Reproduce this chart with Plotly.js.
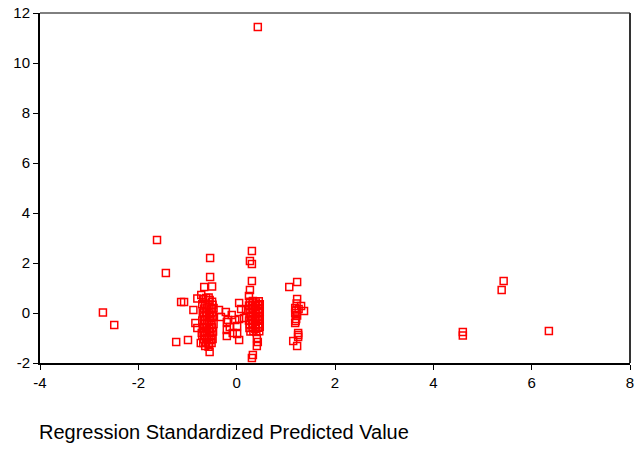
<!DOCTYPE html>
<html>
<head>
<meta charset="utf-8">
<script src="https://cdn.plot.ly/plotly-3.0.1.min.js"></script>
<style>html,body{margin:0;padding:0;background:#fff;}#chart{width:637px;height:450px;}</style>
</head>
<body>
<div id="chart"></div>
<script>
// Outliers far from the main clusters
const outlierX = [-2.72, -2.49, -1.62, -1.44, -1.23, -1.13, -1.07, -0.99, 0.43, 4.60, 4.60, 5.39, 5.43, 6.35];
const outlierY = [0.02, -0.48, 2.92, 1.60, -1.16, 0.44, 0.44, -1.08, 11.44, -0.76, -0.90, 0.92, 1.28, -0.72];

// Cluster around x = -0.6
const clusterAX = [-0.68, -0.62, -0.55, -0.50, -0.70, -0.64, -0.57, -0.49, -0.66, -0.60, -0.53, -0.47,
  -0.69, -0.63, -0.56, -0.50, -0.67, -0.61, -0.54, -0.48, -0.70, -0.64, -0.57, -0.51,
  -0.66, -0.60, -0.53, -0.47, -0.69, -0.63, -0.56, -0.50, -0.67, -0.61, -0.54, -0.48,
  -0.70, -0.64, -0.57, -0.51, -0.66, -0.60, -0.53, -0.49, -0.68, -0.62, -0.56, -0.51,
  -0.64, -0.57, -0.55, -0.72, -0.80, -0.88, -0.84, -0.80, -0.71, -0.73, -0.66, -0.50, -0.54, -0.54, -0.57];
const clusterAY = [0.55, 0.60, 0.52, 0.45, 0.35, 0.38, 0.30, 0.33, 0.18, 0.22, 0.15, 0.20,
  0.02, 0.05, -0.02, 0.04, -0.14, -0.10, -0.17, -0.12, -0.30, -0.27, -0.33, -0.28,
  -0.45, -0.42, -0.48, -0.44, -0.60, -0.57, -0.63, -0.58, -0.75, -0.72, -0.78, -0.74,
  -0.90, -0.88, -0.93, -0.89, -1.05, -1.02, -1.08, -1.04, -1.20, -1.18, -1.24, -1.20,
  -1.32, -1.35, -1.56, 0.72, 0.58, 0.12, -0.40, -0.60, -0.80, -1.20, 1.04, 1.06, 1.44, 2.20, 0.62];

// Scattered points between the two main clusters
const middleX = [-0.36, -0.22, -0.32, -0.20, -0.10, 0.05, 0.09, 0.05, 0.01, -0.14, -0.20, -0.08, -0.20, 0.01, 0.05, -0.03, -0.18, 0.15, 0.19];
const middleY = [0.12, 0.04, -0.16, -0.36, -0.08, 0.40, 0.16, -0.24, -0.52, -0.56, -0.68, -0.80, -0.92, -0.84, -1.08, -0.28, -0.28, -0.20, 0.12];

// Cluster around x = 0.4
const clusterBX = [0.27, 0.33, 0.39, 0.45, 0.25, 0.31, 0.37, 0.43, 0.47, 0.28, 0.34, 0.40, 0.46,
  0.26, 0.32, 0.38, 0.44, 0.47, 0.28, 0.34, 0.40, 0.46, 0.25, 0.31, 0.37, 0.43, 0.47,
  0.27, 0.33, 0.39, 0.45, 0.26, 0.32, 0.38, 0.44, 0.47, 0.28, 0.34, 0.40, 0.46,
  0.41, 0.43, 0.41, 0.33, 0.31, 0.31, 0.27, 0.31, 0.31, 0.27, 0.25];
const clusterBY = [0.45, 0.48, 0.42, 0.47, 0.30, 0.33, 0.27, 0.31, 0.35, 0.15, 0.18, 0.12, 0.16,
  0.00, 0.03, -0.03, 0.01, 0.05, -0.15, -0.12, -0.18, -0.14, -0.30, -0.27, -0.33, -0.29, -0.25,
  -0.45, -0.42, -0.48, -0.44, -0.60, -0.57, -0.63, -0.59, -0.55, -0.74, -0.72, -0.76, -0.73,
  -1.00, -1.16, -1.32, -1.68, -1.80, 2.48, 2.08, 1.96, 1.28, 0.92, 0.68];

// Cluster around x = 1.2
const clusterCX = [1.23, 1.19, 1.31, 1.37, 1.19, 1.21, 1.19, 1.25, 1.25, 1.15, 1.23, 1.07, 1.23, 1.21, 1.23, 1.20, 1.25, 1.22, 1.26];
const clusterCY = [0.56, 0.20, 0.28, 0.08, 0.00, -0.24, -0.40, -0.80, -0.96, -1.12, -1.32, 1.04, 1.24, 0.10, -0.10, -0.32, -0.88, 0.38, 0.16];

const xTicks = [-4, -2, 0, 2, 4, 6, 8];
const yTicks = [-2, 0, 2, 4, 6, 8, 10, 12];

const xs = [].concat(outlierX, clusterAX, middleX, clusterBX, clusterCX);
const ys = [].concat(outlierY, clusterAY, middleY, clusterBY, clusterCY);

const trace = {
  x: xs, y: ys, type: 'scatter', mode: 'markers',
  marker: {symbol: 'square-open', size: 7, color: '#ff0000', line: {width: 1.5, color: '#ff0000'}},
  hoverinfo: 'x+y'
};

const font = {family: 'Liberation Sans, Arial, sans-serif', size: 15, color: '#000'};
const layout = {
  width: 637, height: 450,
  margin: {l: 40, r: 7, t: 13, b: 87},
  paper_bgcolor: '#fff', plot_bgcolor: '#fff',
  showlegend: false,
  font: font,
  xaxis: {range: [-4, 8], tickvals: xTicks, ticktext: xTicks.map(String), showgrid: false, zeroline: false,
    showline: true, linecolor: '#000', linewidth: 2, ticks: 'outside', ticklen: 5, tickwidth: 1, tickcolor: '#000',
    tickfont: font},
  yaxis: {range: [-2, 12], tickvals: yTicks, ticktext: yTicks.map(String), showgrid: false, zeroline: false,
    showline: true, linecolor: '#000', linewidth: 2, ticks: 'outside', ticklen: 5, tickwidth: 1, tickcolor: '#000',
    tickfont: font},
  shapes: [
    {type: 'line', xref: 'paper', yref: 'paper', x0: 0, x1: 1, y0: 1, y1: 1, line: {color: '#000', width: 1}},
    {type: 'line', xref: 'paper', yref: 'paper', x0: 1, x1: 1, y0: 0, y1: 1, line: {color: '#333', width: 2}}
  ],
  annotations: [{
    text: 'Regression Standardized Predicted Value', xref: 'paper', yref: 'paper',
    x: 0, xanchor: 'left', xshift: -3, y: 0, yanchor: 'middle', yshift: -69, showarrow: false,
    font: {family: 'Liberation Sans, Arial, sans-serif', size: 20, color: '#000'}
  }]
};

Plotly.newPlot('chart', [trace], layout, {displayModeBar: false, staticPlot: true});
</script>
</body>
</html>
